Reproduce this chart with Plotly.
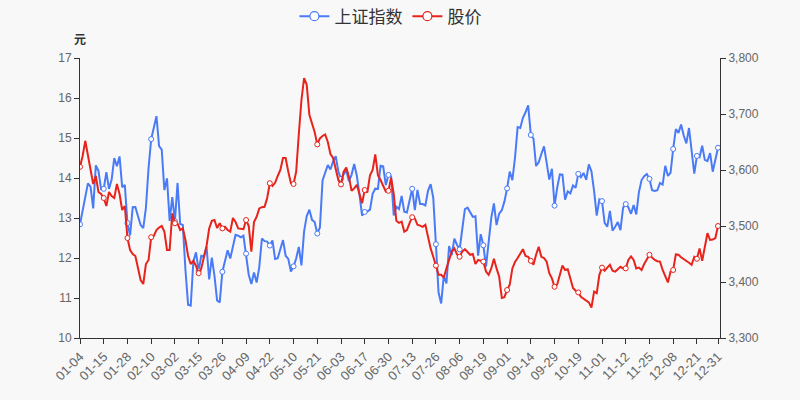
import pandas as pd
import plotly.graph_objects as go

# trading days of 2021 (weekdays minus exchange holidays)
holidays = ["2021-01-01", "2021-02-11", "2021-02-12", "2021-02-15", "2021-02-16", "2021-02-17",
            "2021-04-05", "2021-05-03", "2021-05-04", "2021-05-05", "2021-06-14",
            "2021-09-20", "2021-09-21", "2021-10-01", "2021-10-04", "2021-10-05",
            "2021-10-06", "2021-10-07"]
days = pd.bdate_range("2021-01-01", "2021-12-31")
days = [d for d in days if d.strftime("%Y-%m-%d") not in holidays]
dates = [d.strftime("%m-%d") for d in days]

sse = [
    3502.96, 3528.68, 3550.88, 3576.20, 3570.11, 3531.50, 3608.34, 3598.65, 3565.90, 3566.38,
    3596.22, 3566.26, 3583.09, 3621.26, 3606.75, 3624.24, 3569.43, 3573.34, 3505.18, 3483.07,
    3533.68, 3533.93, 3517.31, 3501.86, 3496.33, 3532.44, 3603.49, 3655.09, 3675.36, 3696.17,
    3642.44, 3636.36, 3564.08, 3585.05, 3509.08,
    3551.40, 3508.59, 3576.90, 3503.49, 3501.99, 3421.41, 3359.29, 3357.74, 3436.83, 3453.08,
    3419.95, 3446.73, 3445.55, 3463.07, 3404.66, 3443.44, 3411.51, 3367.06, 3363.59, 3418.33,
    3435.30, 3456.68, 3441.91,
    3466.33, 3484.39, 3482.85, 3479.63, 3482.56, 3450.68, 3412.95, 3396.47, 3416.83, 3398.99,
    3426.62, 3477.55, 3472.94, 3472.22, 3465.11, 3474.17, 3441.17, 3442.61, 3457.07, 3474.90,
    3446.86,
    3441.28, 3418.87, 3427.99, 3441.85, 3462.75, 3429.54, 3490.38, 3517.62, 3529.01, 3510.96,
    3506.94, 3486.56, 3497.28, 3581.34, 3593.36, 3608.85, 3600.78, 3615.48,
    3624.71, 3597.14, 3584.22, 3591.84, 3599.54, 3580.11, 3591.40, 3610.86, 3589.75, 3556.56,
    3518.33, 3525.10, 3525.60, 3529.18, 3557.41, 3566.65, 3566.22, 3607.56, 3606.37, 3573.18,
    3591.20,
    3588.78, 3518.76, 3534.32, 3530.26, 3553.72, 3525.50, 3524.09, 3547.84, 3566.47, 3528.50,
    3564.59, 3539.30, 3539.12, 3536.79, 3562.87, 3574.73, 3550.40, 3467.44, 3381.18, 3361.59,
    3411.72, 3397.36,
    3464.29, 3447.99, 3477.22, 3466.56, 3458.23, 3494.64, 3529.93, 3532.62, 3524.74, 3516.30,
    3517.34, 3446.98, 3485.29, 3465.55, 3427.33, 3477.13, 3514.47, 3540.38, 3501.66, 3522.16,
    3528.15, 3543.94,
    3567.10, 3597.04, 3581.73, 3621.86, 3676.59, 3675.19, 3693.13, 3703.11, 3715.37, 3662.60,
    3656.22, 3607.09, 3613.97, 3628.49, 3642.22, 3613.07, 3582.83, 3602.22, 3536.29, 3568.17,
    3592.17, 3591.71, 3546.94, 3561.76, 3558.28, 3572.37, 3568.14, 3593.15, 3587.00, 3594.78,
    3582.60, 3609.86, 3597.64, 3562.31, 3518.42, 3547.34,
    3544.48, 3505.63, 3498.54, 3526.87, 3491.57, 3498.63, 3507.00, 3492.46, 3532.79, 3539.10,
    3533.30, 3521.79, 3537.37, 3520.71, 3560.37, 3582.08, 3589.09, 3592.70, 3584.18, 3564.09,
    3562.70, 3563.89,
    3576.89, 3573.84, 3607.43, 3589.31, 3595.09, 3637.57, 3673.04, 3666.35, 3681.08, 3661.53,
    3647.63, 3675.02, 3632.36, 3593.60, 3625.13, 3622.62, 3643.34, 3618.05, 3615.97, 3630.11,
    3597.00, 3619.19, 3639.78,
]

price = [
    14.28, 14.55, 14.93, 14.6, 14.2, 13.85, 14.05, 13.65, 13.6, 13.5,
    13.3, 13.65, 13.55, 13.5, 13.85, 13.6, 13.2, 13.3, 12.5, 12.2,
    12.1, 12.05, 11.75, 11.45, 11.35, 11.85, 11.95, 12.52, 12.55, 12.7,
    12.76, 12.8, 12.66, 12.2, 12.2, 13.12, 12.87, 12.86, 12.7, 12.74,
    12.45, 12.05, 11.85, 11.93, 11.8, 11.62, 11.74, 12.0, 12.3, 12.74,
    12.93, 12.95, 12.75, 12.87, 12.74, 12.78, 12.7, 12.66, 13.0, 12.9,
    12.74, 12.73, 12.72, 12.95, 12.8, 12.16, 12.9, 13.03, 13.24, 13.27,
    13.28, 13.5, 13.87, 13.8, 13.88, 14.05, 14.2, 14.5, 14.5, 14.16,
    13.87, 13.85, 14.16, 15.1, 15.95, 16.5, 16.33, 15.58, 15.35, 15.15,
    14.84, 14.99, 15.05, 15.09, 14.9, 14.6, 14.5, 14.25, 13.95, 13.84,
    14.16, 14.26, 14.03, 13.68, 13.74, 13.83, 13.58, 13.37, 13.7, 13.64,
    14.07, 14.2, 14.59, 14.07, 13.95, 13.8, 13.66, 13.68, 14.0, 13.6,
    12.93, 12.88, 12.91, 12.66, 12.7, 12.87, 13.02, 12.99, 12.83, 12.81,
    12.78, 12.83, 12.53, 12.24, 12.03, 11.81, 11.58, 11.58, 11.51, 11.74,
    11.95, 12.16, 12.24, 12.09, 12.03, 12.16, 12.22, 12.16, 12.08, 12.1,
    11.85, 11.95, 11.93, 11.91, 11.66, 11.58, 11.74, 11.98, 11.74, 11.53,
    11.0, 11.02, 11.2, 11.33, 11.74, 11.9, 12.0, 12.12, 12.22, 12.05,
    12.03, 11.93, 11.83, 12.08, 12.28, 12.03, 12.0, 11.91, 11.62, 11.49,
    11.28, 11.34, 11.58, 11.81, 11.7, 11.72, 11.49, 11.25, 11.18, 11.14,
    11.03, 10.98, 10.93, 10.89, 10.76, 11.16, 11.12, 11.58, 11.76, 11.68,
    11.76, 11.83, 11.68, 11.66, 11.72, 11.78, 11.74, 11.74, 11.95, 12.04,
    11.95, 11.74, 11.76, 11.7, 11.85, 11.98, 12.08, 12.01, 11.95, 11.92,
    11.91, 11.7, 11.53, 11.39, 11.66, 11.7, 12.09, 12.08, 12.02, 11.98,
    11.93, 11.88, 11.83, 12.03, 11.98, 12.24, 11.93, 12.24, 12.62, 12.45,
    12.46, 12.5, 12.8,
]

series_names = ["上证指数", "股价"]
BLUE = "#4a7bf7"
RED = "#e8231b"

n = len(dates)
mark_idx = [i for i in range(n) if i % 9 == 0]
if mark_idx[-1] != n - 1:
    mark_idx.append(n - 1)
tick_dates = [dates[i] for i in mark_idx]

fig = go.Figure()
# blue on right axis (y), red on left axis (y2) so red is drawn on top
fig.add_trace(go.Scatter(x=dates, y=sse, mode="lines", line=dict(color=BLUE, width=2),
                         yaxis="y", showlegend=False, hoverinfo="skip"))
fig.add_trace(go.Scatter(x=[dates[i] for i in mark_idx], y=[sse[i] for i in mark_idx],
                         mode="markers", yaxis="y", showlegend=False,
                         marker=dict(symbol="circle", size=5, color="white",
                                     line=dict(color=BLUE, width=1))))
fig.add_trace(go.Scatter(x=dates, y=price, mode="lines", line=dict(color=RED, width=2),
                         yaxis="y2", showlegend=False, hoverinfo="skip"))
fig.add_trace(go.Scatter(x=[dates[i] for i in mark_idx], y=[price[i] for i in mark_idx],
                         mode="markers", yaxis="y2", showlegend=False,
                         marker=dict(symbol="circle", size=5, color="white",
                                     line=dict(color=RED, width=1))))
# legend entries
for name, col in zip(series_names, [BLUE, RED]):
    fig.add_trace(go.Scatter(x=[None], y=[None], mode="lines+markers", name=name,
                             line=dict(color=col, width=2),
                             marker=dict(symbol="circle", size=9, color="white",
                                         line=dict(color=col, width=1.2))))

FONT = "Liberation Sans, Arial, Noto Sans CJK SC, sans-serif"
fig.update_layout(
    width=800, height=400,
    margin=dict(l=80, r=80, t=58, b=62, autoexpand=False),
    paper_bgcolor="#f8f8f8", plot_bgcolor="#f8f8f8",
    font=dict(family=FONT, size=12, color="#666"),
    showlegend=True,
    legend=dict(orientation="h", x=0.485, xanchor="center",
                y=1.212, yanchor="top",
                font=dict(size=17, color="#333", family="Noto Sans CJK SC, sans-serif"),
                bgcolor="rgba(0,0,0,0)", itemwidth=30, tracegroupgap=0),
    xaxis=dict(type="category", categoryorder="array", categoryarray=dates,
               range=[0, (n - 1) * 640 / 638], tickmode="array", tickvals=tick_dates,
               ticktext=tick_dates, tickangle=-45, ticks="outside", ticklen=5,
               tickcolor="#333", showline=True, linecolor="#333", linewidth=1,
               showgrid=False, zeroline=False, tickfont=dict(size=13, color="#666")),
    yaxis=dict(side="right", range=[3300, 3800], dtick=100, tickformat=",",
               ticks="outside", ticklen=5, tickcolor="#333", showline=True,
               linecolor="#333", linewidth=1, showgrid=False, zeroline=False,
               tickfont=dict(size=12, color="#666")),
    yaxis2=dict(side="left", overlaying="y", range=[10, 17], dtick=1,
                ticks="outside", ticklen=5, tickcolor="#333", showline=True,
                linecolor="#333", linewidth=1, showgrid=False, zeroline=False,
                tickfont=dict(size=12, color="#666")),
    annotations=[dict(text="<b>元</b>", x=0, xref="paper", y=1.071, yref="paper",
                      xanchor="center", yanchor="middle", showarrow=False,
                      font=dict(size=12, color="#333", family="Noto Sans CJK SC, sans-serif"))],
)

fig.write_html("out.html")
